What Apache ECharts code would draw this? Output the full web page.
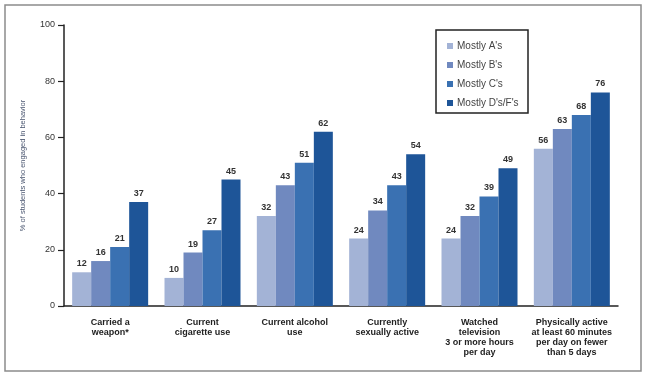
<!DOCTYPE html>
<html>
<head>
<meta charset="utf-8">
<script src="https://cdn.jsdelivr.net/npm/echarts@6/dist/echarts.min.js"></script>
<style>
  html, body { margin: 0; padding: 0; background: #fff; }
  #chart { width: 645px; height: 377px; }
</style>
</head>
<body>
<div id="chart"></div>
<script>
var categories = [
  'Carried a\nweapon*',
  'Current\ncigarette use',
  'Current alcohol\nuse',
  'Currently\nsexually active',
  'Watched\ntelevision\n3 or more hours\nper day',
  'Physically active\nat least 60 minutes\nper day on fewer\nthan 5 days'
];
var seriesNames = ["Mostly A's", "Mostly B's", "Mostly C's", "Mostly D's/F's"];
var mostlyA = [12, 10, 32, 24, 24, 56];
var mostlyB = [16, 19, 43, 34, 32, 63];
var mostlyC = [21, 27, 51, 43, 39, 68];
var mostlyDF = [37, 45, 62, 54, 49, 76];
var yTicks = [0, 20, 40, 60, 80, 100];

var colors = ['#a3b3d6', '#7089bf', '#3a71b2', '#1e5598'];
var values = [mostlyA, mostlyB, mostlyC, mostlyDF];

var chart = echarts.init(document.getElementById('chart'), null, {renderer: 'canvas'});

var series = seriesNames.map(function (name, i) {
  return {
    name: name,
    type: 'bar',
    data: values[i],
    barWidth: 19,
    barGap: '0%',
    itemStyle: { color: colors[i] },
    label: {
      show: true,
      position: 'top',
      distance: 4,
      color: '#333',
      fontSize: 9,
      fontWeight: 'bold',
      fontFamily: 'Liberation Sans'
    }
  };
});

var option = {
  animation: false,
  textStyle: { fontFamily: 'Liberation Sans' },
  color: colors,
  grid: { left: 64, right: 27, top: 25, bottom: 71 },
  graphic: [{
    type: 'rect',
    shape: { x: 5, y: 5, width: 636, height: 366 },
    style: { fill: 'none', stroke: '#8c8c8c', lineWidth: 1.5 },
    z: -1
  }, {
    type: 'rect',
    shape: { x: 436, y: 30, width: 92, height: 83 },
    style: { fill: '#fff', stroke: '#222', lineWidth: 1.5 },
    z: 5
  }],
  legend: {
    orient: 'vertical',
    left: 442,
    top: 36,
    itemWidth: 6,
    itemHeight: 6,
    itemGap: 9,
    icon: 'rect',
    z: 10,
    textStyle: { color: '#444', fontSize: 10, padding: [0, 0, 0, -1] },
    data: seriesNames
  },
  xAxis: {
    type: 'category',
    data: categories,
    axisLine: { lineStyle: { color: '#222', width: 1.5 } },
    axisTick: { show: false },
    axisLabel: {
      interval: 0,
      margin: 12,
      color: '#222',
      fontSize: 9,
      fontWeight: 'bold',
      lineHeight: 10,
      align: 'center'
    }
  },
  yAxis: {
    type: 'value',
    min: 0,
    max: 100,
    interval: 20,
    name: '% of students who engaged in behavior',
    nameLocation: 'middle',
    nameGap: 37,
    nameTextStyle: { color: '#4a5670', fontSize: 7.5 },
    axisLine: { show: true, lineStyle: { color: '#222', width: 1.5 } },
    axisTick: { show: true, length: 6, lineStyle: { color: '#222', width: 1.2 } },
    splitLine: { show: false },
    axisLabel: {
      color: '#333',
      fontSize: 9,
      margin: 9,
      formatter: function (v) { return yTicks.indexOf(v) >= 0 ? String(v) : ''; }
    }
  },
  series: series
};

chart.setOption(option);
</script>
</body>
</html>
